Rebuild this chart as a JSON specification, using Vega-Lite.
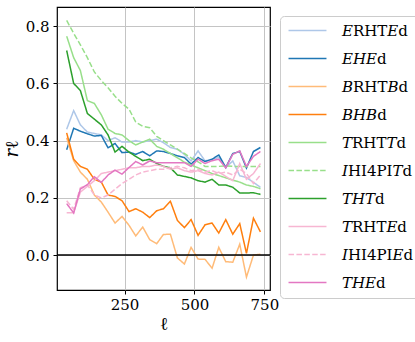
{
  "$schema": "https://vega.github.io/schema/vega-lite/v6.json",
  "width": 213,
  "height": 283,
  "autosize": {"type": "none"},
  "padding": {"left": 57, "top": 7, "right": 145, "bottom": 52},
  "config": {
    "font": "DejaVu Serif",
    "view": {"stroke": "black", "strokeWidth": 1.2},
    "axis": {
      "grid": true, "gridColor": "#c4c4c4", "gridWidth": 1,
      "domain": false, "tickColor": "black", "tickSize": 4, "tickWidth": 1,
      "labelFont": "DejaVu Serif", "labelFontSize": 15, "labelColor": "black",
      "titleFont": "DejaVu Serif", "titleFontSize": 18, "titleFontWeight": "normal", "titleColor": "black"
    },
    "legend": {
      "orient": "none", "legendX": 223, "legendY": 9,
      "symbolType": "M-3,0H3", "symbolSize": 160, "symbolStrokeWidth": 1.5,
      "labelFont": "DejaVu Serif", "labelFontSize": 15, "labelColor": "black", "labelLimit": 200,
      "rowPadding": 12, "padding": 7, "strokeColor": "#cccccc", "fillColor": "white",
      "cornerRadius": 4, "labelOffset": 27, "symbolOffset": 13
    }
  },
  "layer": [
    {
      "data": {"values": [
        {"l": 43, "ERHT": 0.44, "EH": 0.368, "BRHT": 0.41, "BH": 0.427, "TRHT": 0.765, "ITd": 0.82, "TH": 0.715, "TRHTE": 0.148, "IEd": 0.19, "THE": 0.18},
        {"l": 68, "ERHT": 0.505, "EH": 0.443, "BRHT": 0.33, "BH": 0.335, "TRHT": 0.69, "ITd": 0.775, "TH": 0.6, "TRHTE": 0.148, "IEd": 0.16, "THE": 0.147},
        {"l": 92, "ERHT": 0.455, "EH": 0.433, "BRHT": 0.29, "BH": 0.31, "TRHT": 0.645, "ITd": 0.735, "TH": 0.575, "TRHTE": 0.22, "IEd": 0.235, "THE": 0.231},
        {"l": 117, "ERHT": 0.43, "EH": 0.424, "BRHT": 0.265, "BH": 0.3, "TRHT": 0.54, "ITd": 0.69, "TH": 0.495, "TRHTE": 0.24, "IEd": 0.245, "THE": 0.246},
        {"l": 142, "ERHT": 0.425, "EH": 0.416, "BRHT": 0.21, "BH": 0.265, "TRHT": 0.53, "ITd": 0.64, "TH": 0.475, "TRHTE": 0.26, "IEd": 0.21, "THE": 0.274},
        {"l": 167, "ERHT": 0.42, "EH": 0.418, "BRHT": 0.185, "BH": 0.255, "TRHT": 0.49, "ITd": 0.61, "TH": 0.455, "TRHTE": 0.285, "IEd": 0.2, "THE": 0.254},
        {"l": 191, "ERHT": 0.4, "EH": 0.375, "BRHT": 0.15, "BH": 0.21, "TRHT": 0.44, "ITd": 0.585, "TH": 0.42, "TRHTE": 0.29, "IEd": 0.21, "THE": 0.28},
        {"l": 216, "ERHT": 0.41, "EH": 0.39, "BRHT": 0.112, "BH": 0.205, "TRHT": 0.425, "ITd": 0.555, "TH": 0.36, "TRHTE": 0.295, "IEd": 0.23, "THE": 0.297},
        {"l": 241, "ERHT": 0.395, "EH": 0.358, "BRHT": 0.135, "BH": 0.19, "TRHT": 0.42, "ITd": 0.53, "TH": 0.38, "TRHTE": 0.3, "IEd": 0.25, "THE": 0.283},
        {"l": 266, "ERHT": 0.395, "EH": 0.36, "BRHT": 0.104, "BH": 0.152, "TRHT": 0.4, "ITd": 0.51, "TH": 0.36, "TRHTE": 0.305, "IEd": 0.265, "THE": 0.306},
        {"l": 290, "ERHT": 0.4, "EH": 0.352, "BRHT": 0.067, "BH": 0.162, "TRHT": 0.385, "ITd": 0.465, "TH": 0.345, "TRHTE": 0.305, "IEd": 0.28, "THE": 0.327},
        {"l": 315, "ERHT": 0.395, "EH": 0.362, "BRHT": 0.098, "BH": 0.15, "TRHT": 0.395, "ITd": 0.45, "TH": 0.33, "TRHTE": 0.31, "IEd": 0.29, "THE": 0.315},
        {"l": 340, "ERHT": 0.4, "EH": 0.347, "BRHT": 0.054, "BH": 0.131, "TRHT": 0.405, "ITd": 0.445, "TH": 0.335, "TRHTE": 0.31, "IEd": 0.295, "THE": 0.329},
        {"l": 365, "ERHT": 0.405, "EH": 0.364, "BRHT": 0.04, "BH": 0.155, "TRHT": 0.38, "ITd": 0.415, "TH": 0.32, "TRHTE": 0.315, "IEd": 0.3, "THE": 0.323},
        {"l": 389, "ERHT": 0.393, "EH": 0.362, "BRHT": 0.072, "BH": 0.162, "TRHT": 0.37, "ITd": 0.4, "TH": 0.31, "TRHTE": 0.31, "IEd": 0.3, "THE": 0.323},
        {"l": 414, "ERHT": 0.376, "EH": 0.355, "BRHT": 0.073, "BH": 0.188, "TRHT": 0.355, "ITd": 0.385, "TH": 0.305, "TRHTE": 0.3, "IEd": 0.305, "THE": 0.323},
        {"l": 439, "ERHT": 0.37, "EH": 0.347, "BRHT": -0.01, "BH": 0.121, "TRHT": 0.34, "ITd": 0.37, "TH": 0.28, "TRHTE": 0.305, "IEd": 0.31, "THE": 0.323},
        {"l": 464, "ERHT": 0.352, "EH": 0.341, "BRHT": -0.031, "BH": 0.096, "TRHT": 0.325, "ITd": 0.355, "TH": 0.275, "TRHTE": 0.295, "IEd": 0.305, "THE": 0.323},
        {"l": 488, "ERHT": 0.329, "EH": 0.318, "BRHT": 0.027, "BH": 0.124, "TRHT": 0.315, "ITd": 0.34, "TH": 0.27, "TRHTE": 0.29, "IEd": 0.295, "THE": 0.31},
        {"l": 513, "ERHT": 0.364, "EH": 0.341, "BRHT": -0.014, "BH": 0.069, "TRHT": 0.305, "ITd": 0.326, "TH": 0.26, "TRHTE": 0.295, "IEd": 0.3, "THE": 0.335},
        {"l": 538, "ERHT": 0.329, "EH": 0.327, "BRHT": -0.015, "BH": 0.106, "TRHT": 0.295, "ITd": 0.31, "TH": 0.255, "TRHTE": 0.285, "IEd": 0.29, "THE": 0.32},
        {"l": 563, "ERHT": 0.335, "EH": 0.335, "BRHT": -0.046, "BH": 0.112, "TRHT": 0.285, "ITd": 0.31, "TH": 0.265, "TRHTE": 0.28, "IEd": 0.295, "THE": 0.33},
        {"l": 587, "ERHT": 0.341, "EH": 0.35, "BRHT": 0.027, "BH": 0.077, "TRHT": 0.278, "ITd": 0.31, "TH": 0.245, "TRHTE": 0.29, "IEd": 0.285, "THE": 0.335},
        {"l": 612, "ERHT": 0.306, "EH": 0.306, "BRHT": -0.023, "BH": 0.124, "TRHT": 0.27, "ITd": 0.312, "TH": 0.245, "TRHTE": 0.275, "IEd": 0.29, "THE": 0.305},
        {"l": 637, "ERHT": 0.329, "EH": 0.355, "BRHT": -0.025, "BH": 0.073, "TRHT": 0.262, "ITd": 0.31, "TH": 0.237, "TRHTE": 0.26, "IEd": 0.28, "THE": 0.352},
        {"l": 662, "ERHT": 0.277, "EH": 0.362, "BRHT": 0.038, "BH": 0.11, "TRHT": 0.255, "ITd": 0.31, "TH": 0.217, "TRHTE": 0.32, "IEd": 0.3, "THE": 0.364},
        {"l": 686, "ERHT": 0.271, "EH": 0.304, "BRHT": -0.077, "BH": 0.006, "TRHT": 0.245, "ITd": 0.31, "TH": 0.217, "TRHTE": 0.265, "IEd": 0.285, "THE": 0.31},
        {"l": 711, "ERHT": 0.254, "EH": 0.362, "BRHT": 0.0, "BH": 0.129, "TRHT": 0.24, "ITd": 0.31, "TH": 0.218, "TRHTE": 0.285, "IEd": 0.25, "THE": 0.345},
        {"l": 736, "ERHT": 0.237, "EH": 0.376, "BRHT": 0.003, "BH": 0.081, "TRHT": 0.232, "ITd": 0.31, "TH": 0.212, "TRHTE": 0.32, "IEd": 0.28, "THE": 0.362}
      ]},
      "transform": [{"fold": ["ERHT", "EH", "BRHT", "BH", "TRHT", "ITd", "TH", "TRHTE", "IEd", "THE"], "as": ["series", "r"]}],
      "mark": {"type": "line", "strokeWidth": 1.5, "clip": true},
      "encoding": {
        "x": {"field": "l", "type": "quantitative", "scale": {"domain": [8.4, 770.2], "nice": false, "zero": false},
              "axis": {"values": [250, 500, 750], "title": "ℓ", "labelPadding": 3, "titlePadding": 3}},
        "y": {"field": "r", "type": "quantitative", "scale": {"domain": [-0.122, 0.867], "nice": false, "zero": false},
              "axis": {"values": [0, 0.2, 0.4, 0.6, 0.8], "format": ".1f", "title": "𝑟ℓ", "labelPadding": 4, "titlePadding": 4}},
        "color": {"field": "series", "type": "nominal",
          "scale": {"domain": ["ERHT", "EH", "BRHT", "BH", "TRHT", "ITd", "TH", "TRHTE", "IEd", "THE"],
                    "range": ["#aec7e8", "#1f77b4", "#ffbb78", "#ff7f0e", "#98df8a", "#98df8a", "#2ca02c", "#f7b6d2", "#f7b6d2", "#e377c2"]},
          "legend": {"title": null, "labelExpr": "{'ERHT': '𝐸RHT𝐸d', 'EH': '𝐸𝐻𝐸d', 'BRHT': '𝐵RHT𝐵d', 'BH': '𝐵𝐻𝐵d', 'TRHT': '𝑇RHT𝑇d', 'ITd': '𝐼HI4PI𝑇d', 'TH': '𝑇𝐻𝑇d', 'TRHTE': '𝑇RHT𝐸d', 'IEd': '𝐼HI4PI𝐸d', 'THE': '𝑇𝐻𝐸d'}[datum.value]"}},
        "strokeDash": {"field": "series", "type": "nominal",
          "scale": {"domain": ["ERHT", "EH", "BRHT", "BH", "TRHT", "ITd", "TH", "TRHTE", "IEd", "THE"],
                    "range": [[1, 0], [1, 0], [1, 0], [1, 0], [1, 0], [5.5, 2.4], [1, 0], [1, 0], [5.5, 2.4], [1, 0]]},
          "legend": {"title": null, "labelExpr": "{'ERHT': '𝐸RHT𝐸d', 'EH': '𝐸𝐻𝐸d', 'BRHT': '𝐵RHT𝐵d', 'BH': '𝐵𝐻𝐵d', 'TRHT': '𝑇RHT𝑇d', 'ITd': '𝐼HI4PI𝑇d', 'TH': '𝑇𝐻𝑇d', 'TRHTE': '𝑇RHT𝐸d', 'IEd': '𝐼HI4PI𝐸d', 'THE': '𝑇𝐻𝐸d'}[datum.value]"}}
      }
    },
    {
      "data": {"values": [{"zero": 0}]},
      "mark": {"type": "rule", "color": "black", "strokeWidth": 1.5},
      "encoding": {"y": {"field": "zero", "type": "quantitative"}}
    }
  ]
}
